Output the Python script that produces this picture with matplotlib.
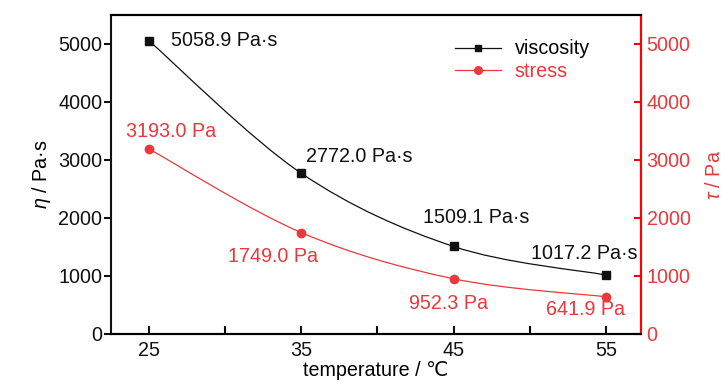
import numpy as np
import matplotlib
matplotlib.use('Agg')
import matplotlib.pyplot as plt
from matplotlib.path import Path
from matplotlib.patches import PathPatch

plt.rcParams['font.family'] = ['Liberation Sans', 'DejaVu Sans']
plt.rcParams['mathtext.fontset'] = 'custom'
plt.rcParams['mathtext.it'] = 'Liberation Sans:italic'
plt.rcParams['mathtext.rm'] = 'Liberation Sans'

# datos
temperature = [25, 35, 45, 55]
viscosity = [5058.9, 2772.0, 1509.1, 1017.2]
stress = [3193.0, 1749.0, 952.3, 641.9]
visc_labels = ['5058.9 Pa·s', '2772.0 Pa·s', '1509.1 Pa·s', '1017.2 Pa·s']
stress_labels = ['3193.0 Pa', '1749.0 Pa', '952.3 Pa', '641.9 Pa']

black = '#111111'
red = '#e8393c'
fs = 14.2


def smooth_path(xs, ys):
    # curva tipo Catmull-Rom pasando por los puntos
    pts = np.column_stack([xs, ys]).astype(float)
    verts = [pts[0]]
    codes = [Path.MOVETO]
    n = len(pts)
    for i in range(n - 1):
        p0 = pts[max(i - 1, 0)]
        p1 = pts[i]
        p2 = pts[i + 1]
        p3 = pts[min(i + 2, n - 1)]
        c1 = p1 + (p2 - p0) / 6
        c2 = p2 - (p3 - p1) / 6
        verts += [c1, c2, p2]
        codes += [Path.CURVE4] * 3
    return Path(verts, codes)


fig = plt.figure(figsize=(7.28, 3.9), dpi=100)
ax = fig.add_axes([0.152, 0.1436, 0.7285, 0.818])
ax2 = ax.twinx()

ax.add_patch(PathPatch(smooth_path(temperature, viscosity), fill=False, color=black, lw=0.9))
ax.add_patch(PathPatch(smooth_path(temperature, stress), fill=False, color=red, lw=0.9))
ax.plot(temperature, viscosity, 's', color=black, ms=5.5)
ax.plot(temperature, stress, 'o', color=red, ms=6)

# leyenda
h1, = ax.plot([], [], '-s', color=black, ms=5, lw=0.9)
h2, = ax.plot([], [], '-o', color=red, ms=5.5, lw=0.9)
leg = ax.legend([h1, h2], ['viscosity', 'stress'], loc='upper right', frameon=False,
                fontsize=fs, handlelength=2.3, handletextpad=0.7, labelspacing=0.2,
                bbox_to_anchor=(0.918, 0.948), borderaxespad=0)
leg.get_texts()[1].set_color(red)

# etiquetas de valores
visc_off = [(22, 0, 'left'), (58, 17, 'center'), (23, 29, 'center'), (-22, 21, 'center')]
stress_off = [(22, 17, 'center'), (-28, -24, 'center'), (-5, -25, 'center'), (-20, -13, 'center')]
for x, y, t, (dx, dy, ha) in zip(temperature, viscosity, visc_labels, visc_off):
    ax.annotate(t, (x, y), xytext=(dx, dy), textcoords='offset pixels',
                ha=ha, va='center', fontsize=fs, color=black)
for x, y, t, (dx, dy, ha) in zip(temperature, stress, stress_labels, stress_off):
    ax.annotate(t, (x, y), xytext=(dx, dy), textcoords='offset pixels',
                ha=ha, va='center', fontsize=fs, color=red)

ax.set_xlim(22.5, 57.3)
ax.set_ylim(0, 5500)
ax2.set_ylim(0, 5500)
ax.set_xticks(temperature)
ax.set_xticks([30, 40, 50], minor=True)
ax.set_yticks(range(0, 5001, 1000))
ax2.set_yticks(range(0, 5001, 1000))

ax.tick_params(axis='x', direction='in', length=6, width=1.5, labelsize=fs, pad=5, colors=black)
ax.tick_params(axis='x', which='minor', direction='in', length=6, width=1.5)
ax.tick_params(axis='y', direction='out', length=5, width=1.5, labelsize=fs, pad=1, colors=black)
ax2.tick_params(axis='y', direction='in', length=5, width=1.5, labelsize=fs, pad=4,
                color='red', labelcolor=red)

for s in ax.spines.values():
    s.set_linewidth(1.5)
    s.set_color(black)
for s in ax2.spines.values():
    s.set_linewidth(1.5)
ax2.spines['right'].set_color('red')
ax2.spines['left'].set_visible(False)

ax.set_ylabel('$\\eta$ / Pa·s', fontsize=fs, labelpad=4)
ax2.set_ylabel('$\\tau$ / Pa', fontsize=fs, color=red, labelpad=10)
ax.set_xlabel('temperature / ℃', fontsize=fs, labelpad=1)

plt.savefig('out.png', dpi=100)
